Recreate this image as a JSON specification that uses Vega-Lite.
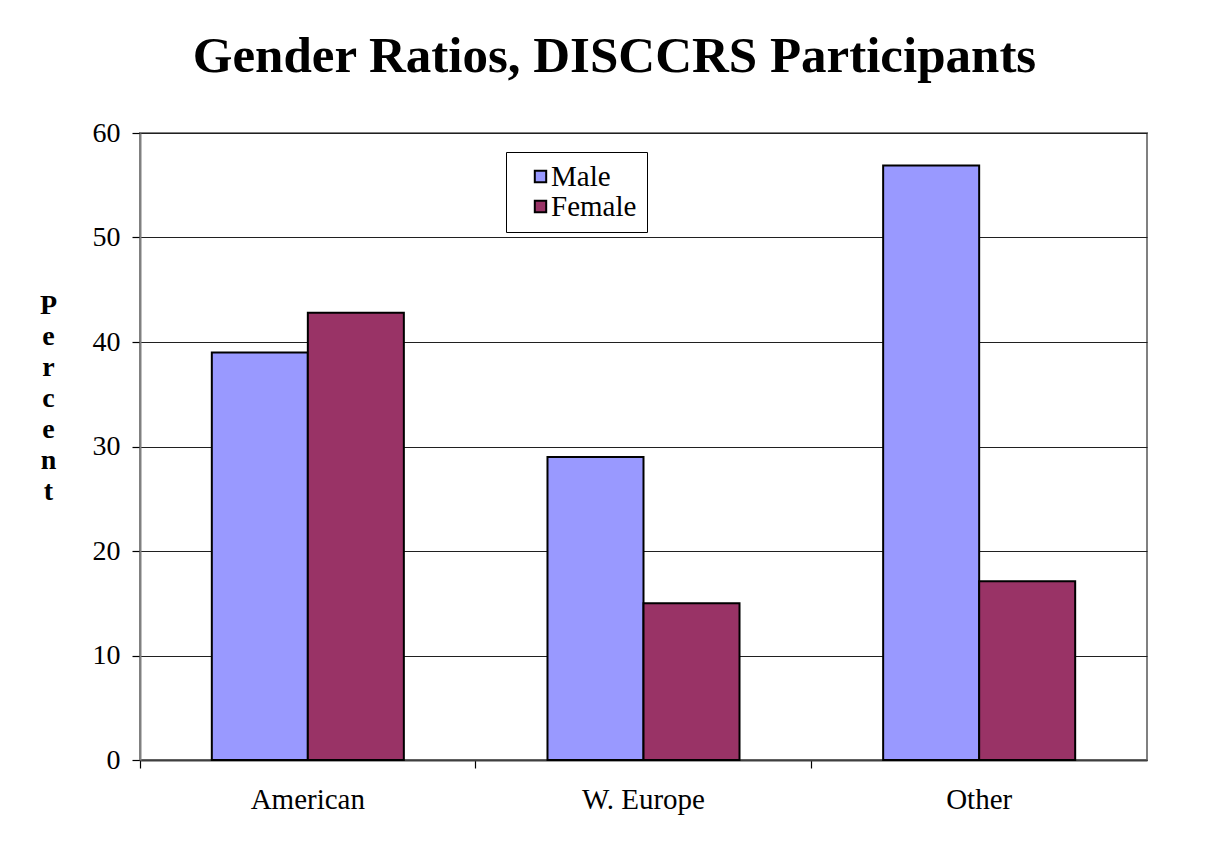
{
  "$schema": "https://vega.github.io/schema/vega-lite/v6.json",
  "width": 1007,
  "height": 627,
  "autosize": {"type": "none"},
  "padding": {"left": 140, "top": 133, "right": 62, "bottom": 88},
  "background": "white",
  "title": {
    "text": "Gender Ratios, DISCCRS Participants",
    "font": "Liberation Serif",
    "fontSize": 51,
    "fontWeight": "bold",
    "color": "black",
    "anchor": "middle",
    "frame": "group",
    "dx": -29,
    "offset": 36
  },
  "data": {
    "values": [
      {"region": "American", "gender": "Male", "percent": 39.0},
      {"region": "American", "gender": "Female", "percent": 42.8},
      {"region": "W. Europe", "gender": "Male", "percent": 29.0},
      {"region": "W. Europe", "gender": "Female", "percent": 15.0},
      {"region": "Other", "gender": "Male", "percent": 56.9},
      {"region": "Other", "gender": "Female", "percent": 17.1}
    ]
  },
  "mark": {"type": "bar", "stroke": "black", "strokeWidth": 2},
  "encoding": {
    "x": {
      "field": "region",
      "type": "nominal",
      "sort": ["American", "W. Europe", "Other"],
      "scale": {"paddingInner": 0, "paddingOuter": 0},
      "axis": {
        "title": null,
        "bandPosition": 0,
        "labelAngle": 0,
        "grid": false,
        "domainColor": "#404040",
        "domainWidth": 2,
        "tickColor": "black",
        "tickSize": 8,
        "tickWidth": 1.2,
        "labelFont": "Times New Roman",
        "labelFontSize": 29,
        "labelColor": "black",
        "labelPadding": 17
      }
    },
    "xOffset": {
      "field": "gender",
      "type": "nominal",
      "sort": ["Male", "Female"],
      "scale": {"paddingInner": 0, "paddingOuter": 0.748}
    },
    "y": {
      "field": "percent",
      "type": "quantitative",
      "scale": {"domain": [0, 60]},
      "axis": {
        "title": ["P", "e", "r", "c", "e", "n", "t"],
        "titleFont": "Liberation Serif",
        "titleFontSize": 28,
        "titleFontWeight": "bold",
        "titleColor": "black",
        "titleAngle": 0,
        "titleAlign": "center",
        "titleBaseline": "top",
        "titleX": -92,
        "titleY": 158,
        "titleLineHeight": 31,
        "values": [0, 10, 20, 30, 40, 50, 60],
        "grid": true,
        "gridColor": "#202020",
        "gridWidth": 1,
        "domainColor": "#808080",
        "domainWidth": 2,
        "tickColor": "black",
        "tickSize": 8,
        "tickWidth": 1.2,
        "labelFont": "serif",
        "labelFontSize": 28,
        "labelColor": "black",
        "labelPadding": 12
      }
    },
    "color": {
      "field": "gender",
      "type": "nominal",
      "sort": ["Male", "Female"],
      "scale": {"domain": ["Male", "Female"], "range": ["#9999FF", "#993366"]},
      "legend": {
        "title": null,
        "orient": "none",
        "legendX": 366,
        "legendY": 19,
        "strokeColor": "black",
        "fillColor": "white",
        "padding": 10,
        "symbolType": "square",
        "symbolSize": 130,
        "symbolStrokeColor": "black",
        "symbolStrokeWidth": 2,
        "symbolOffset": 10,
        "labelFont": "Liberation Serif",
        "labelFontSize": 29,
        "labelColor": "black",
        "labelOffset": -4,
        "rowPadding": -2
      }
    }
  },
  "config": {"font": "Liberation Serif", "view": {"stroke": "#808080", "strokeWidth": 2}}
}
